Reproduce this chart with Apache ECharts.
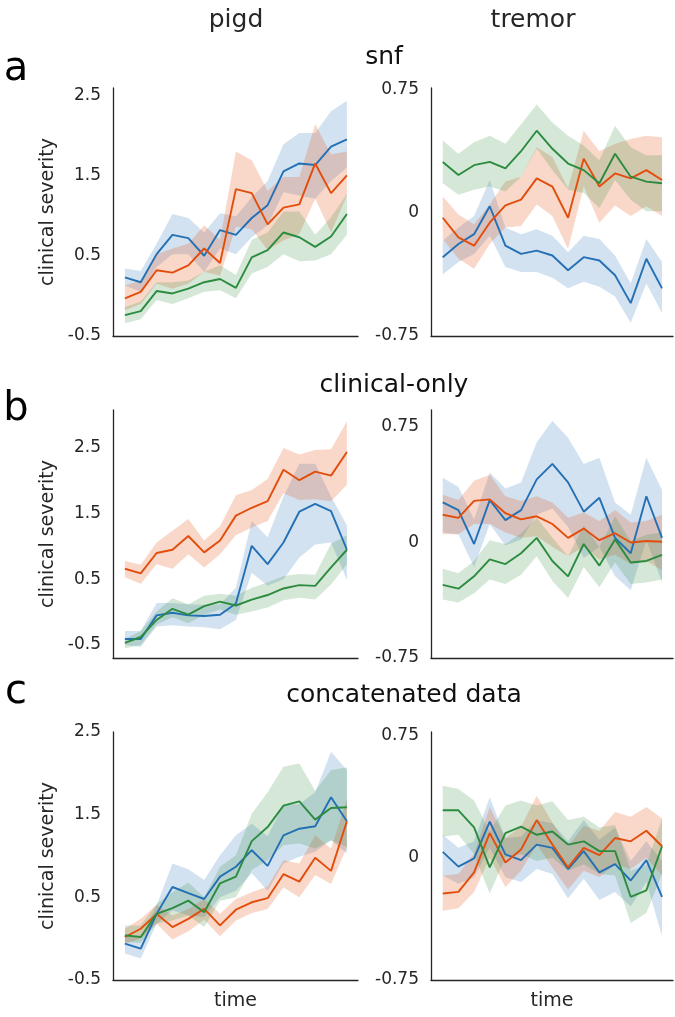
<!DOCTYPE html>
<html>
<head>
<meta charset="utf-8">
<script src="https://cdn.jsdelivr.net/npm/echarts@6/dist/echarts.min.js"></script>
<style>
  html, body { margin: 0; padding: 0; background: #fff; }
  #chart { width: 675px; height: 1017px; }
</style>
</head>
<body>
<div id="chart"></div>
<script>
// time points shared by every panel
const timePoints = [0, 1, 2, 3, 4, 5, 6, 7, 8, 9, 10, 11, 12, 13, 14];

const rowTitles = ['snf', 'clinical-only', 'concatenated data'];
const rowLetters = ['a', 'b', 'c'];
const colTitles = ['pigd', 'tremor'];
const pigdTicks = [-0.5, 0.5, 1.5, 2.5];
const tremorTicks = [-0.75, 0, 0.75];

// row a: snf, pigd
const snfPigdBlue = [0.23, 0.17, 0.52, 0.76, 0.72, 0.50, 0.82, 0.76, 0.97, 1.13, 1.55, 1.65, 1.63, 1.86, 1.95];
const snfPigdBlueHi = [0.34, 0.31, 0.65, 1.02, 0.97, 0.79, 1.03, 0.99, 1.23, 1.43, 1.89, 2.03, 2.03, 2.30, 2.43];
const snfPigdBlueLo = [0.13, 0.05, 0.36, 0.52, 0.52, 0.30, 0.59, 0.52, 0.73, 0.88, 1.29, 1.25, 1.21, 1.43, 1.60];
const snfPigdOrange = [-0.03, 0.05, 0.32, 0.29, 0.38, 0.59, 0.41, 1.33, 1.28, 0.89, 1.10, 1.14, 1.65, 1.28, 1.50];
const snfPigdOrangeHi = [0.13, 0.19, 0.52, 0.59, 0.65, 0.88, 0.70, 1.80, 1.69, 1.31, 1.48, 1.48, 2.14, 1.76, 1.80];
const snfPigdOrangeLo = [-0.18, -0.10, 0.15, 0.09, 0.15, 0.30, 0.25, 0.86, 0.83, 0.57, 0.69, 0.77, 1.21, 0.79, 1.25];
const snfPigdGreen = [-0.24, -0.19, 0.06, 0.03, 0.09, 0.17, 0.21, 0.10, 0.48, 0.57, 0.79, 0.73, 0.61, 0.74, 1.02];
const snfPigdGreenHi = [-0.14, -0.07, 0.17, 0.17, 0.19, 0.30, 0.38, 0.26, 0.70, 0.79, 1.05, 1.05, 0.76, 0.98, 1.27];
const snfPigdGreenLo = [-0.34, -0.29, -0.05, -0.10, -0.03, 0.05, 0.07, -0.03, 0.28, 0.36, 0.52, 0.43, 0.44, 0.52, 0.76];

// row a: snf, tremor
const snfTremorBlue = [-0.27, -0.19, -0.13, 0.04, -0.20, -0.25, -0.23, -0.26, -0.35, -0.27, -0.29, -0.38, -0.55, -0.28, -0.46];
const snfTremorBlueHi = [-0.17, -0.09, -0.02, 0.20, -0.09, -0.13, -0.10, -0.14, -0.24, -0.14, -0.16, -0.26, -0.43, -0.16, -0.30];
const snfTremorBlueLo = [-0.375, -0.30, -0.25, -0.14, -0.33, -0.36, -0.36, -0.395, -0.46, -0.42, -0.45, -0.51, -0.67, -0.43, -0.61];
const snfTremorOrange = [-0.03, -0.15, -0.20, -0.06, 0.045, 0.08, 0.21, 0.16, -0.03, 0.33, 0.16, 0.24, 0.21, 0.26, 0.20];
const snfTremorOrangeHi = [0.10, -0.01, -0.07, 0.05, 0.19, 0.22, 0.40, 0.34, 0.15, 0.50, 0.375, 0.42, 0.45, 0.47, 0.46];
const snfTremorOrangeLo = [-0.16, -0.28, -0.34, -0.19, -0.09, -0.08, 0.05, -0.02, -0.22, 0.16, -0.06, 0.045, -0.02, 0.04, -0.02];
const snfTremorGreen = [0.31, 0.23, 0.29, 0.31, 0.27, 0.375, 0.50, 0.39, 0.30, 0.26, 0.18, 0.36, 0.22, 0.19, 0.18];
const snfTremorGreenHi = [0.44, 0.36, 0.43, 0.47, 0.42, 0.54, 0.66, 0.55, 0.47, 0.41, 0.32, 0.53, 0.40, 0.35, 0.35];
const snfTremorGreenLo = [0.18, 0.11, 0.14, 0.16, 0.13, 0.22, 0.39, 0.26, 0.14, 0.12, 0.03, 0.20, 0.08, 0.01, 0.01];

// row b: clinical-only, pigd
const clinPigdBlue = [-0.41, -0.41, -0.05, -0.01, -0.05, -0.06, -0.04, 0.13, 1.01, 0.73, 1.06, 1.53, 1.65, 1.54, 0.95];
const clinPigdBlueHi = [-0.29, -0.29, 0.14, 0.14, 0.12, 0.11, 0.12, 0.37, 1.39, 1.14, 1.76, 2.26, 2.26, 1.76, 1.32];
const clinPigdBlueLo = [-0.50, -0.53, -0.22, -0.20, -0.22, -0.23, -0.26, -0.12, 0.60, 0.40, 0.50, 0.83, 1.03, 1.06, 0.49];
const clinPigdOrange = [0.66, 0.59, 0.90, 0.95, 1.16, 0.91, 1.09, 1.47, 1.59, 1.69, 2.17, 2.01, 2.14, 2.08, 2.44];
const clinPigdOrangeHi = [0.78, 0.72, 1.06, 1.24, 1.42, 1.09, 1.31, 1.78, 1.86, 2.03, 2.50, 2.40, 2.47, 2.48, 2.91];
const clinPigdOrangeLo = [0.53, 0.43, 0.73, 0.66, 0.88, 0.68, 0.88, 1.17, 1.29, 1.39, 1.81, 1.71, 1.72, 1.69, 1.94];
const clinPigdGreen = [-0.47, -0.38, -0.12, 0.05, -0.04, 0.09, 0.16, 0.10, 0.19, 0.26, 0.36, 0.41, 0.40, 0.68, 0.95];
const clinPigdGreenHi = [-0.41, -0.29, 0.01, 0.21, 0.12, 0.25, 0.28, 0.25, 0.37, 0.45, 0.55, 0.58, 0.57, 1.04, 1.17];
const clinPigdGreenLo = [-0.55, -0.50, -0.19, -0.08, -0.17, -0.04, 0.04, -0.04, 0.01, 0.07, 0.18, 0.22, 0.19, 0.42, 0.73];

// row b: clinical-only, tremor
const clinTremorBlue = [0.26, 0.21, -0.01, 0.275, 0.145, 0.21, 0.41, 0.51, 0.39, 0.20, 0.29, 0.03, -0.07, 0.30, 0.03];
const clinTremorBlueHi = [0.42, 0.36, 0.15, 0.455, 0.35, 0.39, 0.65, 0.79, 0.68, 0.51, 0.55, 0.26, 0.18, 0.55, 0.34];
const clinTremorBlueLo = [0.065, 0.054, -0.16, 0.12, -0.02, 0.02, 0.18, 0.22, 0.10, -0.10, -0.03, -0.22, -0.31, 0.015, -0.26];
const clinTremorOrange = [0.18, 0.16, 0.27, 0.28, 0.19, 0.15, 0.17, 0.12, 0.03, 0.09, 0.015, 0.06, 0.0, 0.01, 0.005];
const clinTremorOrangeHi = [0.31, 0.275, 0.40, 0.44, 0.30, 0.27, 0.30, 0.26, 0.16, 0.195, 0.14, 0.21, 0.13, 0.14, 0.18];
const clinTremorOrangeLo = [0.054, 0.054, 0.12, 0.12, 0.065, 0.03, 0.04, -0.03, -0.09, -0.03, -0.11, -0.08, -0.14, -0.12, -0.18];
const clinTremorGreen = [-0.275, -0.30, -0.22, -0.11, -0.14, -0.07, 0.03, -0.12, -0.22, -0.01, -0.15, 0.02, -0.13, -0.12, -0.08];
const clinTremorGreenHi = [-0.17, -0.20, -0.12, 0.015, -0.01, 0.06, 0.16, 0.03, -0.09, 0.11, -0.03, 0.17, 0.01, 0.05, 0.065];
const clinTremorGreenLo = [-0.37, -0.39, -0.33, -0.24, -0.27, -0.21, -0.09, -0.25, -0.36, -0.16, -0.29, -0.13, -0.27, -0.26, -0.24];

// row c: concatenated data, pigd
const concPigdBlue = [-0.06, -0.12, 0.30, 0.625, 0.55, 0.48, 0.75, 0.87, 1.07, 0.88, 1.25, 1.33, 1.36, 1.71, 1.42];
const concPigdBlueHi = [0.06, 0.00, 0.40, 0.91, 0.84, 0.71, 1.01, 1.25, 1.39, 1.24, 1.62, 1.63, 1.77, 2.26, 2.04];
const concPigdBlueLo = [-0.18, -0.24, 0.18, 0.34, 0.28, 0.26, 0.50, 0.58, 0.79, 0.58, 0.91, 0.99, 1.05, 1.19, 1.03];
const concPigdOrange = [0.02, 0.12, 0.30, 0.14, 0.24, 0.36, 0.16, 0.35, 0.44, 0.49, 0.78, 0.69, 0.98, 0.82, 1.42];
const concPigdOrangeHi = [0.12, 0.24, 0.41, 0.28, 0.36, 0.48, 0.30, 0.48, 0.56, 0.63, 0.95, 0.91, 1.25, 1.09, 1.69];
const concPigdOrangeLo = [-0.06, 0.00, 0.18, -0.01, 0.09, 0.23, 0.03, 0.22, 0.31, 0.36, 0.62, 0.50, 0.77, 0.66, 1.11];
const concPigdGreen = [0.04, 0.02, 0.30, 0.37, 0.46, 0.32, 0.67, 0.75, 1.18, 1.35, 1.61, 1.66, 1.44, 1.58, 1.59];
const concPigdGreenHi = [0.16, 0.16, 0.42, 0.56, 0.68, 0.50, 0.87, 1.01, 1.51, 1.77, 2.08, 2.12, 1.79, 2.04, 2.07];
const concPigdGreenLo = [-0.04, -0.05, 0.18, 0.22, 0.28, 0.14, 0.46, 0.50, 0.83, 0.95, 1.13, 1.15, 1.09, 1.19, 1.11];

// row c: concatenated data, tremor
const concTremorBlue = [0.035, -0.055, -0.005, 0.22, 0.02, -0.015, 0.08, 0.06, -0.07, 0.04, -0.09, -0.04, -0.14, -0.015, -0.24];
const concTremorBlueHi = [0.14, 0.06, 0.10, 0.37, 0.12, 0.13, 0.23, 0.21, 0.10, 0.23, 0.11, 0.185, -0.02, 0.10, -0.02];
const concTremorBlueLo = [-0.11, -0.16, -0.12, 0.06, -0.12, -0.15, -0.07, -0.10, -0.25, -0.13, -0.26, -0.21, -0.30, -0.15, -0.48];
const concTremorOrange = [-0.22, -0.21, -0.09, 0.15, -0.03, 0.05, 0.23, 0.08, -0.06, 0.06, 0.016, 0.12, 0.10, 0.165, 0.07];
const concTremorOrangeHi = [-0.11, -0.10, 0.025, 0.31, 0.12, 0.19, 0.38, 0.215, 0.07, 0.195, 0.165, 0.28, 0.25, 0.31, 0.24];
const concTremorOrangeLo = [-0.325, -0.31, -0.21, 0.0, -0.18, -0.08, 0.08, -0.06, -0.195, -0.08, -0.12, -0.04, -0.07, 0.0, -0.11];
const concTremorGreen = [0.29, 0.29, 0.185, -0.06, 0.15, 0.19, 0.14, 0.16, 0.08, 0.10, 0.04, 0.04, -0.24, -0.20, 0.07];
const concTremorGreenHi = [0.44, 0.42, 0.35, 0.16, 0.32, 0.35, 0.32, 0.345, 0.23, 0.25, 0.185, 0.20, -0.08, -0.045, 0.24];
const concTremorGreenLo = [0.13, 0.14, 0.02, -0.22, 0.0, 0.02, -0.02, 0.0, -0.08, -0.04, -0.10, -0.11, -0.40, -0.34, -0.10];

const colors = { blue: '#2470b5', orange: '#e24d0c', green: '#2b8b3e' };
const bands = { blue: 'rgba(36,112,181,0.2)', orange: 'rgba(226,77,12,0.22)', green: 'rgba(43,139,62,0.2)' };

const panels = [
  [[snfPigdBlue, snfPigdBlueLo, snfPigdBlueHi], [snfPigdOrange, snfPigdOrangeLo, snfPigdOrangeHi], [snfPigdGreen, snfPigdGreenLo, snfPigdGreenHi]],
  [[snfTremorBlue, snfTremorBlueLo, snfTremorBlueHi], [snfTremorOrange, snfTremorOrangeLo, snfTremorOrangeHi], [snfTremorGreen, snfTremorGreenLo, snfTremorGreenHi]],
  [[clinPigdBlue, clinPigdBlueLo, clinPigdBlueHi], [clinPigdOrange, clinPigdOrangeLo, clinPigdOrangeHi], [clinPigdGreen, clinPigdGreenLo, clinPigdGreenHi]],
  [[clinTremorBlue, clinTremorBlueLo, clinTremorBlueHi], [clinTremorOrange, clinTremorOrangeLo, clinTremorOrangeHi], [clinTremorGreen, clinTremorGreenLo, clinTremorGreenHi]],
  [[concPigdBlue, concPigdBlueLo, concPigdBlueHi], [concPigdOrange, concPigdOrangeLo, concPigdOrangeHi], [concPigdGreen, concPigdGreenLo, concPigdGreenHi]],
  [[concTremorBlue, concTremorBlueLo, concTremorBlueHi], [concTremorOrange, concTremorOrangeLo, concTremorOrangeHi], [concTremorGreen, concTremorGreenLo, concTremorGreenHi]]
];
const hueNames = ['blue', 'orange', 'green'];

// y ranges per panel
const yRanges = [[-0.5, 2.59], [-0.75, 0.76], [-0.7, 3.08], [-0.75, 0.86], [-0.5, 2.5], [-0.75, 0.77]];
const rowTops = [88, 410, 732];
const rowHeight = 248;

const ink = '#262626';
const font = 'DejaVu Sans';

const pairs = function(vals) {
  return timePoints.map(function(t, i) { return [t, vals[i]]; });
};

// confidence band drawn as one polygon through the axes' coord mapping
const bandSeries = function(p, lo, hi, fill) {
  return {
    type: 'custom', xAxisIndex: p, yAxisIndex: p, silent: true, z: 1,
    data: timePoints.map(function(t, i) { return [t, lo[i], hi[i]]; }),
    encode: { x: 0, y: [1, 2] },
    renderItem: function(params, api) {
      if (params.dataIndex !== 0) return null;
      var upper = [], lower = [];
      timePoints.forEach(function(t, i) {
        upper.push(api.coord([t, hi[i]]));
        lower.unshift(api.coord([t, lo[i]]));
      });
      return { type: 'polygon', shape: { points: upper.concat(lower) }, style: { fill: fill } };
    }
  };
};

var grids = [], xAxes = [], yAxes = [], series = [];

panels.forEach(function(panel, p) {
  var row = Math.floor(p / 2), col = p % 2;
  grids.push({
    left: col === 0 ? 113 : 431,
    width: col === 0 ? 245 : 242,
    top: rowTops[row],
    height: rowHeight
  });
  xAxes.push({
    type: 'value', gridIndex: p, min: -0.75, max: 14.7,
    axisLine: { show: true, onZero: false, lineStyle: { color: ink, width: 1.3 } },
    axisTick: { show: false }, axisLabel: { show: false }, splitLine: { show: false },
    name: row === 2 ? 'time' : '', nameLocation: 'middle', nameGap: 12,
    nameTextStyle: { color: ink, fontSize: 19, fontFamily: font, verticalAlign: 'top' }
  });
  yAxes.push({
    type: 'value', gridIndex: p, min: yRanges[p][0], max: yRanges[p][1],
    axisLine: { show: true, onZero: false, lineStyle: { color: ink, width: 1.3 } },
    axisTick: { show: false }, splitLine: { show: false },
    axisLabel: {
      customValues: col === 0 ? pigdTicks : tremorTicks,
      color: ink, fontSize: 17, fontFamily: font, margin: 12,
      formatter: function(v) { return String(v); }
    },
    name: col === 0 ? 'clinical severity' : '', nameLocation: 'middle', nameGap: 55,
    nameTextStyle: { color: ink, fontSize: 19, fontFamily: font }
  });

  panel.forEach(function(trio, h) {
    series.push(bandSeries(p, trio[1], trio[2], bands[hueNames[h]]));
  });
  panel.forEach(function(trio, h) {
    series.push({
      type: 'line', xAxisIndex: p, yAxisIndex: p, data: pairs(trio[0]),
      symbol: 'none', z: 3, lineStyle: { color: colors[hueNames[h]], width: 1.9 }
    });
  });
});

var texts = [];
colTitles.forEach(function(t, i) {
  texts.push({ type: 'text', x: i === 0 ? 236 : 533, y: 20,
    style: { text: t, fill: ink, font: '25px "DejaVu Sans"', textAlign: 'center', textVerticalAlign: 'middle' } });
});
var titleX = [384, 394, 404];
var titleY = [57, 385, 695];
var letterY = [70, 410, 693];
rowTitles.forEach(function(t, i) {
  texts.push({ type: 'text', x: titleX[i], y: titleY[i],
    style: { text: t, fill: '#111', font: '25px "DejaVu Sans"', textAlign: 'center', textVerticalAlign: 'middle' } });
  texts.push({ type: 'text', x: 16, y: letterY[i],
    style: { text: rowLetters[i], fill: '#000', font: '40px "DejaVu Sans"', textAlign: 'center', textVerticalAlign: 'middle' } });
});

var chart = echarts.init(document.getElementById('chart'), null, { renderer: 'canvas' });
chart.setOption({
  backgroundColor: '#fff',
  animation: false,
  grid: grids,
  xAxis: xAxes,
  yAxis: yAxes,
  series: series,
  graphic: texts
});
</script>
</body>
</html>
